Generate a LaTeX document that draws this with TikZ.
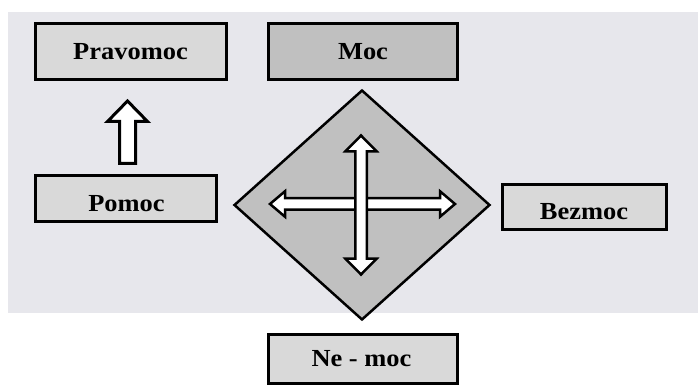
\documentclass[tikz,border=0pt]{standalone}
\usepackage{fontspec}
\setmainfont{Liberation Serif}[FakeStretch=1.08]
\usetikzlibrary{shapes.geometric}
\definecolor{bgcol}{HTML}{E7E7EC}
\definecolor{boxlight}{HTML}{D9D9D9}
\definecolor{boxdark}{HTML}{C0C0C0}
\begin{document}
\begin{tikzpicture}[x=1pt,y=-1pt,
  box/.style={draw=black, line width=3pt, rectangle, inner sep=0pt, fill=boxlight},
  lbl/.style={anchor=base, inner sep=0pt, font=\fontsize{24.5}{28}\selectfont\bfseries},
  blockarrow/.style={draw=black, fill=white, line width=2.5pt, line join=miter}]
\useasboundingbox (0,0) rectangle (698,387);
\fill[bgcol] (8,12) rectangle (698,313);
% boxes
\node[box, minimum width=191pt, minimum height=56pt] (pravomoc) at (131,51.5) {};
\node[box, fill=boxdark, minimum width=189pt, minimum height=56pt] (moc) at (363,51.5) {};
\node[box, minimum width=181pt, minimum height=46pt] (pomoc) at (126,198.5) {};
\node[box, minimum width=164pt, minimum height=45pt] (bezmoc) at (584.5,207) {};
\node[box, minimum width=189pt, minimum height=49pt] (nemoc) at (363,359) {};
% labels
\node[lbl] (tpravomoc) at (130.5,59.3) {Pravomoc};
\node[lbl] (tmoc) at (363,59.3) {Moc};
\node[lbl] (tpomoc) at (126.5,211.7) {Pomoc};
\node[lbl] (tbezmoc) at (584,220) {Bezmoc};
\node[lbl] (tnemoc) at (361.5,366.7) {Ne - moc};
% diamond
\node[diamond, draw=black, line width=2.5pt, fill=boxdark, inner sep=0pt,
      minimum width=256pt, minimum height=230pt] (dia) at (362,205) {};
% up arrow Pomoc -> Pravomoc
\draw[blockarrow, line width=3pt] (127.5,101) -- (147.5,121.5) -- (135.5,121.5) -- (135.5,163.5)
  -- (119.5,163.5) -- (119.5,121.5) -- (107.5,121.5) -- cycle;
% horizontal double arrow
\draw[blockarrow] (270,204) -- (285,191.25) -- (285,198.25) -- (440,198.25) -- (440,191.25)
  -- (455,204) -- (440,216.75) -- (440,209.75) -- (285,209.75) -- (285,216.75) -- cycle;
% vertical double arrow
\draw[blockarrow] (361,135.5) -- (376.75,151.5) -- (366.75,151.5) -- (366.75,258.5) -- (376.75,258.5)
  -- (361,274.5) -- (345.25,258.5) -- (355.25,258.5) -- (355.25,151.5) -- (345.25,151.5) -- cycle;
\end{tikzpicture}
\end{document}
